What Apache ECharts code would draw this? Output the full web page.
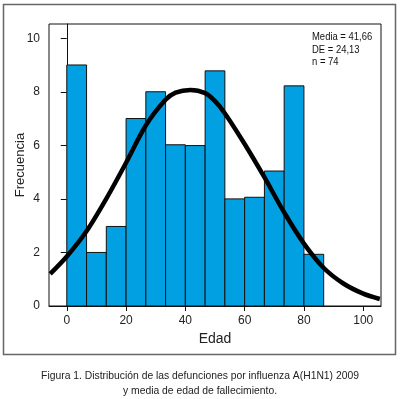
<!DOCTYPE html>
<html>
<head>
<meta charset="utf-8">
<script src="https://cdn.jsdelivr.net/npm/echarts@6/dist/echarts.min.js"></script>
<style>
html,body{margin:0;padding:0;background:#fff;}
#c{width:400px;height:399px;}
</style>
</head>
<body>
<div id="c"></div>
<script>
// Histogram bins (Edad) and frequencies
const binStarts = [0, 6.67, 13.33, 20, 26.67, 33.33, 40, 46.67, 53.33, 60, 66.67, 73.33, 80];
const binEnds   = [6.67, 13.33, 20, 26.67, 33.33, 40, 46.67, 53.33, 60, 66.67, 73.33, 80, 86.67];
const freqs     = [9, 2, 2.97, 7, 8, 6.02, 5.99, 8.78, 4, 4.06, 5.04, 8.22, 1.93];
// Fitted normal curve
const curveX = [-5.6, 0, 6.7, 13.3, 20, 26.7, 33.3, 36.7, 41.7, 46.7, 50, 53.3, 60, 66.7, 73.3, 80, 86.7, 93.3, 100, 105.6];
const curveY = [1.2, 1.85, 2.8, 4.0, 5.35, 6.75, 7.7, 7.97, 8.07, 7.95, 7.65, 7.2, 6.05, 4.8, 3.5, 2.33, 1.42, 0.84, 0.46, 0.26];
// Tick labels
const xTicks = [0, 20, 40, 60, 80, 100];
const yTicks = [0, 2, 4, 6, 8, 10];
const statsLines = ['Media = 41,66', 'DE = 24,13', 'n = 74'];
const captionLines = ['Figura 1. Distribución de las defunciones por influenza A(H1N1) 2009', 'y media de edad de fallecimiento.'];

const barData = binStarts.map((s, i) => [s, binEnds[i], freqs[i]]);
const lineData = curveX.map((x, i) => [x, curveY[i]]);

const chart = echarts.init(document.getElementById('c'), null, {renderer: 'canvas'});
const font = 'Liberation Sans, Arial, sans-serif';
chart.setOption({
  animation: false,
  backgroundColor: '#fff',
  grid: {left: 49, top: 24, width: 332, height: 282, containLabel: false, outerBoundsMode: 'none', show: true, borderColor: '#111', borderWidth: 1, backgroundColor: 'transparent'},
  xAxis: {
    type: 'value', min: -6, max: 106,
    name: 'Edad', nameLocation: 'middle', nameGap: 26, nameMoveOverlap: false,
    nameTextStyle: {fontFamily: font, fontSize: 14, color: '#222'},
    axisLine: {show: true, lineStyle: {color: '#111', width: 1}},
    axisTick: {show: true, length: 5, customValues: xTicks, lineStyle: {color: '#111'}},
    axisLabel: {customValues: xTicks, fontFamily: font, fontSize: 12, color: '#222', margin: 9},
    splitLine: {show: false}
  },
  yAxis: {
    type: 'value', min: 0, max: 10.53,
    name: 'Frecuencia', nameLocation: 'middle', nameGap: 22, nameMoveOverlap: false,
    nameTextStyle: {fontFamily: font, fontSize: 13, color: '#222'},
    axisLine: {show: true, lineStyle: {color: '#111', width: 1}},
    axisTick: {show: true, length: 6, customValues: yTicks, lineStyle: {color: '#111'}},
    axisLabel: {customValues: yTicks, fontFamily: font, fontSize: 12, color: '#222', margin: 9},
    splitLine: {show: false}
  },
  series: [
    {
      type: 'custom',
      data: barData,
      encode: {x: [0, 1], y: 2},
      renderItem: function (params, api) {
        const p0 = api.coord([api.value(0), 0]);
        const p1 = api.coord([api.value(1), api.value(2)]);
        return {
          type: 'rect',
          shape: {x: p0[0], y: p1[1], width: p1[0] - p0[0], height: p0[1] - p1[1]},
          style: {fill: '#00A0E2', stroke: '#111', lineWidth: 1}
        };
      },
      z: 2
    },
    {
      type: 'line',
      data: lineData,
      smooth: 0.3,
      showSymbol: false,
      symbol: 'none',
      lineStyle: {color: '#000', width: 4.5},
      z: 3
    }
  ],
  graphic: [
    {type: 'rect', shape: {x: 3.5, y: 4.5, width: 392, height: 350}, style: {fill: 'none', stroke: '#666', lineWidth: 1.5}, z: -1, silent: true},
    {type: 'text', x: 312, y: 31, style: {text: statsLines.join('\n'), font: '10.5px ' + font, fill: '#111', lineHeight: 12.5}, scaleX: 0.9},
    {type: 'text', x: 200, y: 376, style: {text: captionLines[0], font: '11px ' + font, fill: '#222', align: 'center', verticalAlign: 'middle'}, scaleX: 0.94},
    {type: 'text', x: 200, y: 391, style: {text: captionLines[1], font: '11px ' + font, fill: '#222', align: 'center', verticalAlign: 'middle'}, scaleX: 0.94}
  ]
});
</script>
</body>
</html>
